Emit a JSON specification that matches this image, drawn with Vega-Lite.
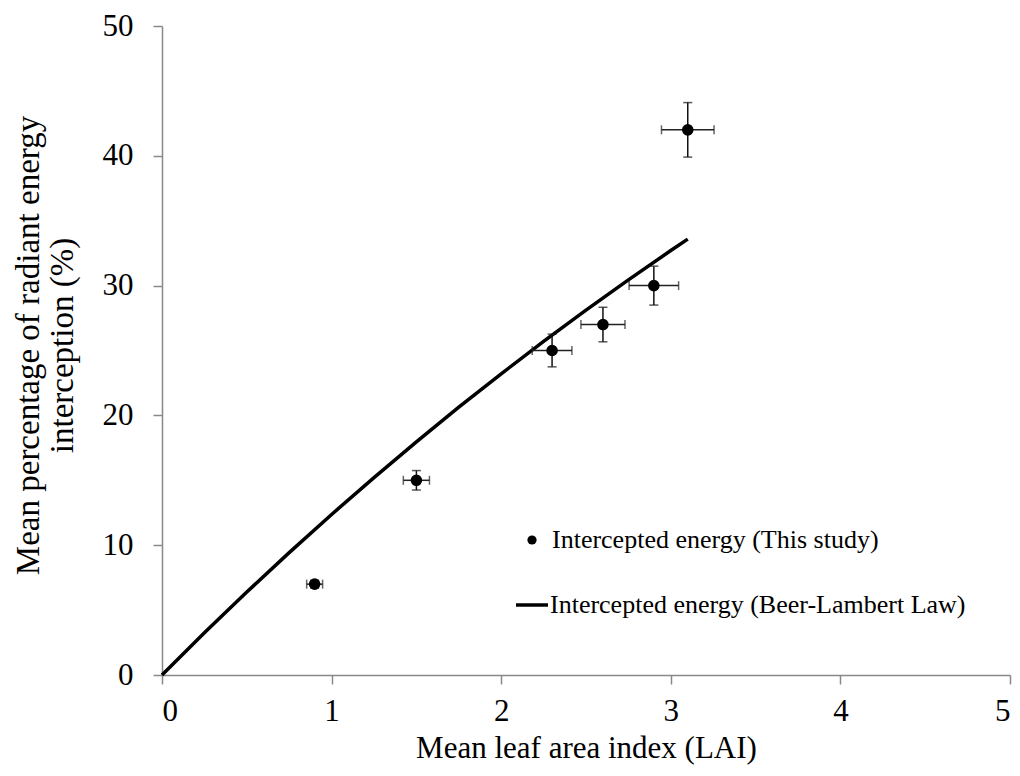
{
  "$schema": "https://vega.github.io/schema/vega-lite/v6.json",
  "width": 848,
  "height": 649,
  "autosize": {"type": "none"},
  "padding": {"left": 162, "top": 26, "right": 10, "bottom": 101},
  "config": {
    "font": "Liberation Serif",
    "view": {"stroke": null},
    "axis": {
      "grid": false,
      "domainColor": "#888888",
      "domainWidth": 1.5,
      "tickColor": "#888888",
      "tickWidth": 1.5,
      "tickSize": 9,
      "labelFont": "Liberation Serif",
      "labelFontSize": 31,
      "labelColor": "black",
      "titleFont": "Liberation Serif",
      "titleFontSize": 31,
      "titleFontWeight": "normal",
      "titleColor": "black"
    }
  },
  "datasets": {
    "obs": [
      {"lai": 0.9, "pct": 7, "xlo": 0.853, "xhi": 0.947, "ylo": 6.7, "yhi": 7.3, "series": "Intercepted energy (This study)"},
      {"lai": 1.5, "pct": 15, "xlo": 1.423, "xhi": 1.577, "ylo": 14.25, "yhi": 15.75, "series": "Intercepted energy (This study)"},
      {"lai": 2.3, "pct": 25, "xlo": 2.183, "xhi": 2.417, "ylo": 23.74, "yhi": 26.26, "series": "Intercepted energy (This study)"},
      {"lai": 2.6, "pct": 27, "xlo": 2.47, "xhi": 2.73, "ylo": 25.67, "yhi": 28.33, "series": "Intercepted energy (This study)"},
      {"lai": 2.9, "pct": 30, "xlo": 2.754, "xhi": 3.046, "ylo": 28.5, "yhi": 31.5, "series": "Intercepted energy (This study)"},
      {"lai": 3.1, "pct": 42, "xlo": 2.945, "xhi": 3.255, "ylo": 39.9, "yhi": 44.1, "series": "Intercepted energy (This study)"}
    ],
    "bl": [
      {"lai": 0, "pct": 0, "series": "Intercepted energy (Beer-Lambert Law)"},
      {"lai": 0.25, "pct": 3.25, "series": "Intercepted energy (Beer-Lambert Law)"},
      {"lai": 0.5, "pct": 6.39, "series": "Intercepted energy (Beer-Lambert Law)"},
      {"lai": 0.75, "pct": 9.43, "series": "Intercepted energy (Beer-Lambert Law)"},
      {"lai": 1.0, "pct": 12.37, "series": "Intercepted energy (Beer-Lambert Law)"},
      {"lai": 1.25, "pct": 15.21, "series": "Intercepted energy (Beer-Lambert Law)"},
      {"lai": 1.5, "pct": 17.96, "series": "Intercepted energy (Beer-Lambert Law)"},
      {"lai": 1.75, "pct": 20.63, "series": "Intercepted energy (Beer-Lambert Law)"},
      {"lai": 2.0, "pct": 23.2, "series": "Intercepted energy (Beer-Lambert Law)"},
      {"lai": 2.25, "pct": 25.7, "series": "Intercepted energy (Beer-Lambert Law)"},
      {"lai": 2.5, "pct": 28.11, "series": "Intercepted energy (Beer-Lambert Law)"},
      {"lai": 2.75, "pct": 30.44, "series": "Intercepted energy (Beer-Lambert Law)"},
      {"lai": 3.0, "pct": 32.7, "series": "Intercepted energy (Beer-Lambert Law)"},
      {"lai": 3.1, "pct": 33.58, "series": "Intercepted energy (Beer-Lambert Law)"}
    ]
  },
  "layer": [
    {
      "data": {"name": "bl"},
      "mark": {"type": "line", "strokeWidth": 3.5},
      "encoding": {
        "x": {
          "field": "lai", "type": "quantitative",
          "title": "Mean leaf area index (LAI)",
          "scale": {"domain": [0, 5], "nice": false, "zero": true},
          "axis": {"values": [0, 1, 2, 3, 4, 5], "format": "d", "labelPadding": 12, "titlePadding": 7}
        },
        "y": {
          "field": "pct", "type": "quantitative",
          "title": ["Mean percentage of radiant energy", "interception (%)"],
          "scale": {"domain": [0, 50], "nice": false},
          "axis": {"values": [0, 10, 20, 30, 40, 50], "format": "d", "labelPadding": 20, "titlePadding": 23, "titleFontSize": 33, "titleLineHeight": 34, "titleY": 319}
        },
        "color": {
          "field": "series", "type": "nominal",
          "scale": {"domain": ["Intercepted energy (Beer-Lambert Law)"], "range": ["black"]},
          "legend": {
            "title": null, "orient": "none", "legendX": 352, "legendY": 561,
            "labelFont": "Liberation Serif", "labelFontSize": 26, "labelColor": "black", "labelLimit": 0,
            "labelOffset": 0, "symbolType": "stroke", "symbolSize": 1024, "symbolStrokeWidth": 3.5, "symbolStrokeColor": "black"
          }
        }
      }
    },
    {
      "data": {"name": "obs"},
      "mark": {"type": "errorbar", "ticks": true, "size": 9, "thickness": 1.5, "color": "#222222"},
      "encoding": {
        "x": {"field": "xlo", "type": "quantitative", "title": "Mean leaf area index (LAI)"},
        "x2": {"field": "xhi"},
        "y": {"field": "pct", "type": "quantitative", "title": ["Mean percentage of radiant energy", "interception (%)"]}
      }
    },
    {
      "data": {"name": "obs"},
      "mark": {"type": "errorbar", "ticks": true, "size": 9, "thickness": 1.5, "color": "#111111"},
      "encoding": {
        "y": {"field": "ylo", "type": "quantitative", "title": ["Mean percentage of radiant energy", "interception (%)"]},
        "y2": {"field": "yhi"},
        "x": {"field": "lai", "type": "quantitative", "title": "Mean leaf area index (LAI)"}
      }
    },
    {
      "data": {"name": "obs"},
      "mark": {"type": "point", "filled": true, "color": "black", "opacity": 1, "size": 135},
      "encoding": {
        "x": {"field": "lai", "type": "quantitative", "title": "Mean leaf area index (LAI)"},
        "y": {"field": "pct", "type": "quantitative", "title": ["Mean percentage of radiant energy", "interception (%)"]},
        "shape": {
          "field": "series", "type": "nominal",
          "scale": {"domain": ["Intercepted energy (This study)"], "range": ["circle"]},
          "legend": {
            "title": null, "orient": "none", "legendX": 357, "legendY": 501,
            "labelFont": "Liberation Serif", "labelFontSize": 26, "labelColor": "black", "labelLimit": 0,
            "labelOffset": 7, "symbolSize": 85, "symbolFillColor": "black", "symbolStrokeWidth": 0
          }
        }
      }
    }
  ]
}
